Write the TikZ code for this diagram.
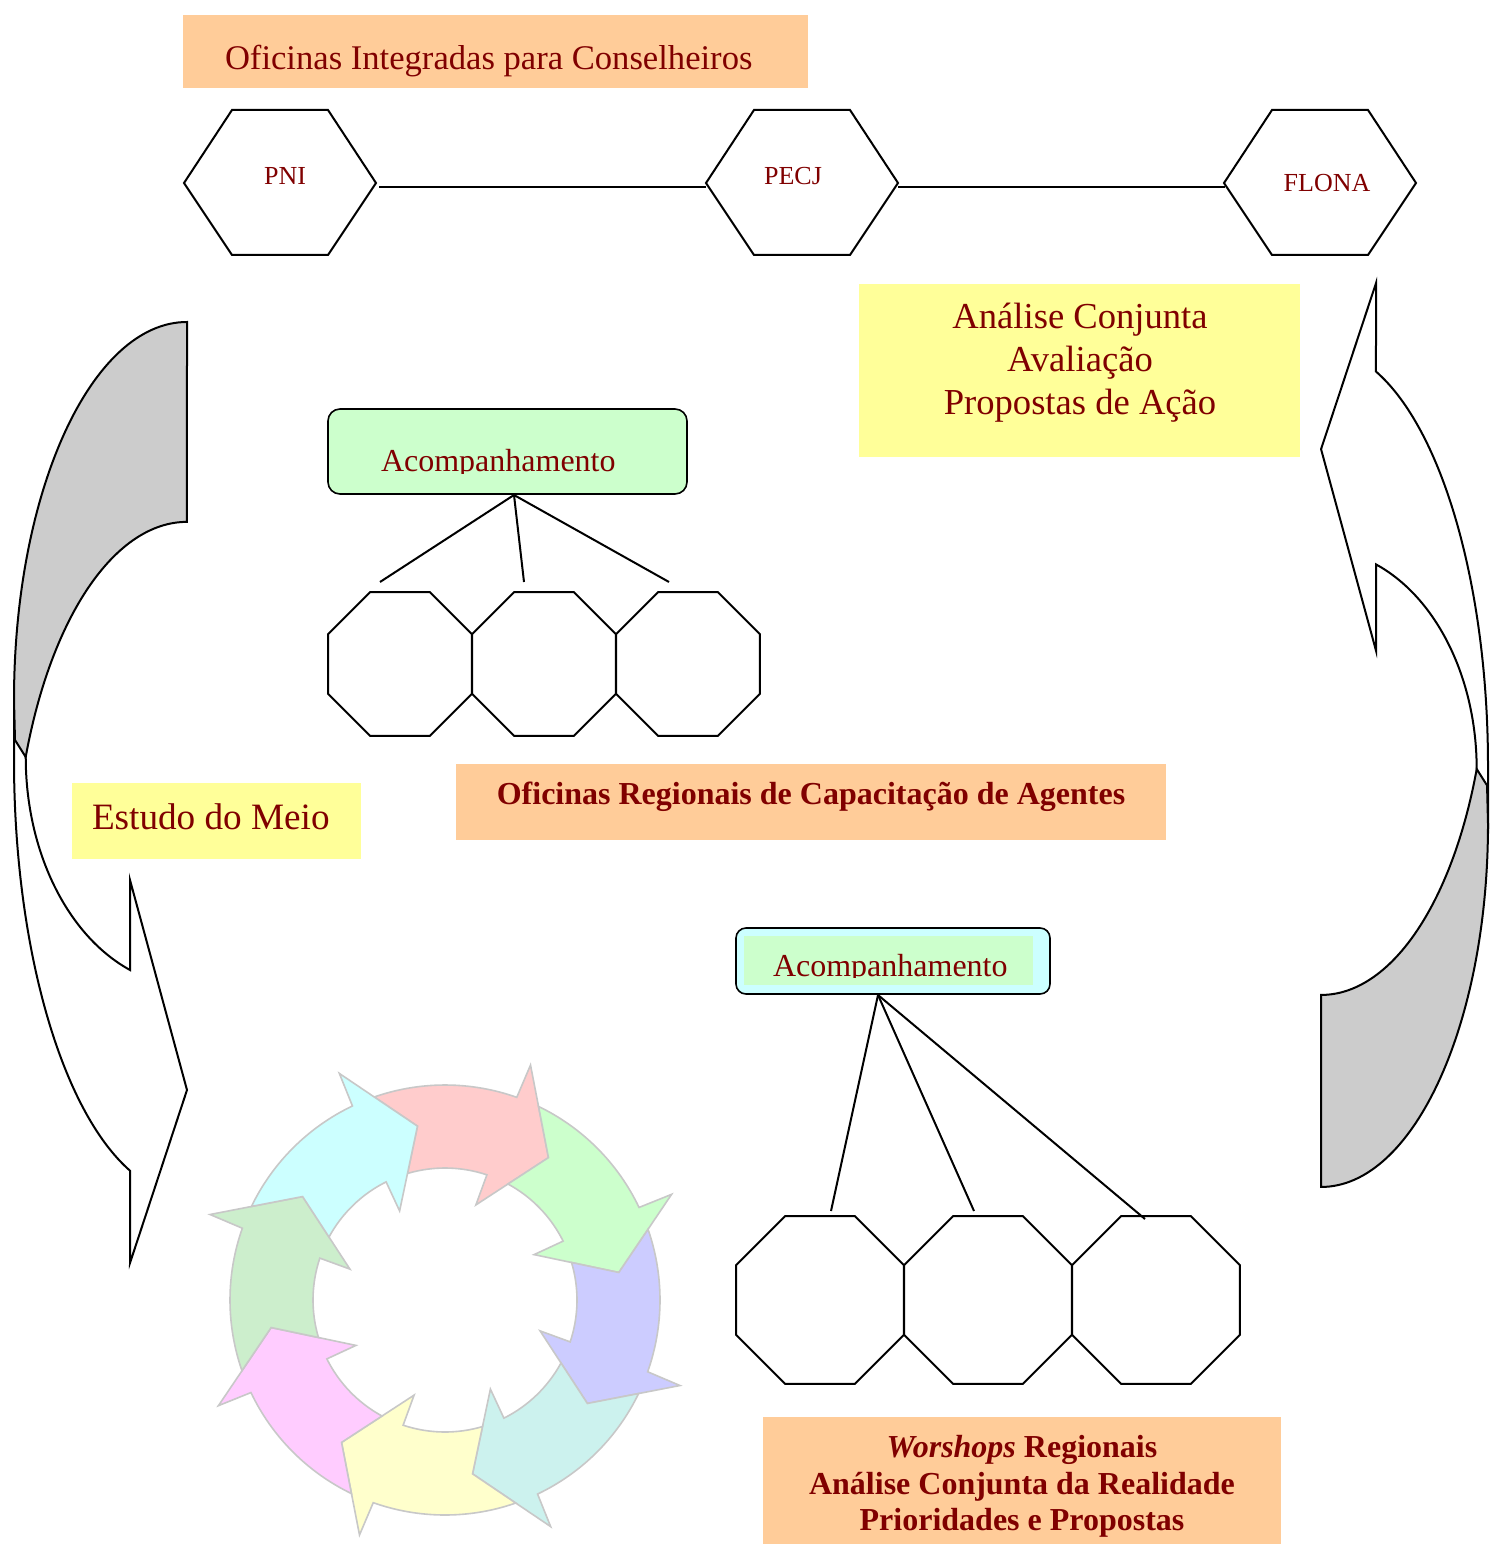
\documentclass[tikz,border=0pt]{standalone}
\usepackage{fontspec}
\setmainfont{Liberation Serif}
\usetikzlibrary{shapes.geometric}
\definecolor{txtred}{HTML}{800000}
\definecolor{boxorange}{HTML}{FFCC99}
\definecolor{boxyellow}{HTML}{FFFF99}
\definecolor{boxgreen}{HTML}{CCFFCC}
\definecolor{boxcyan}{HTML}{CCFFFF}
\definecolor{backgray}{HTML}{CCCCCC}
\definecolor{ringgray}{HTML}{C8C8C8}
\definecolor{cpink}{HTML}{FFCCCC}
\definecolor{cgreen}{HTML}{CCFFCC}
\definecolor{clav}{HTML}{CCCCFF}
\definecolor{cteal}{HTML}{CCF2EE}
\definecolor{cyell}{HTML}{FFFFCC}
\definecolor{cmag}{HTML}{FFCCFF}
\definecolor{cleaf}{HTML}{CCEECC}
\definecolor{ccyan}{HTML}{CCFFFF}
% one arrow of the cycle: #1 = tip angle (screen, clockwise), #2 = fill colour
\newcommand\cyarrow[2]{%
  \filldraw[fill=#2, draw=ringgray, line width=0.8pt, line join=miter]
    ({#1-55.2}:215) arc[start angle={#1-55.2}, end angle={#1-16.5}, radius=215]
    -- ({#1-16}:250) -- (#1:176) -- ({#1-18}:100) -- ({#1-17.5}:132)
    arc[start angle={#1-17.5}, end angle={#1-52.5}, radius=132]
    -- ({#1-45}:176) -- cycle;}
% the big bent arrow (left one, screen coordinates)
\newcommand\bentarrowpaths{%
  \filldraw[fill=white, draw=black, line width=1pt]
    (14,700) -- (14,760) arc[start angle=180, end angle=109.2, x radius=173, y radius=435]
    -- (130,1263) -- (187,1090) -- (130,880) -- (130,970)
    arc[start angle=111.6, end angle=180, x radius=165, y radius=229] -- cycle;
  \filldraw[fill=backgray, draw=black, line width=1pt]
    (187,322) arc[start angle=270, end angle=180, x radius=173, y radius=378]
    -- (15,740) -- (25.7,757)
    arc[start angle=201.2, end angle=270, x radius=173, y radius=368.3] -- cycle;}
\begin{document}
\begin{tikzpicture}[x=0.5pt, y=-0.5pt,
  lbl/.style={text=txtred, inner sep=0pt, outer sep=0pt},
  ln/.style={draw=black, line width=1pt},
  boxnode/.style={anchor=north west, inner sep=0pt, outer sep=0pt},
  octo/.style={draw=black, line width=1pt, regular polygon, regular polygon sides=8,
               inner sep=0pt, outer sep=0pt},
  hexa/.pic={\draw[ln, line join=miter] (-48,-73) -- (48,-73) -- (96,0) -- (48,72)
               -- (-48,72) -- (-96,0) -- cycle;}]
\useasboundingbox (0,0) rectangle (1489,1545);
\fill[white] (0,0) rectangle (1489,1545);

% ---- top title
\node[boxnode, fill=boxorange, minimum width=312.5pt, minimum height=36.5pt] (topbox) at (183,15) {};
\node[lbl, anchor=base west, font=\fontsize{17.3}{20}\selectfont] (toptxt) at (225,70)
  {Oficinas Integradas para Conselheiros};

% ---- hexagons
\pic at (280,183) {hexa};
\pic at (802,183) {hexa};
\pic at (1320,183) {hexa};
\node[lbl, font=\fontsize{13}{15}\selectfont] (pni) at (285,176) {PNI};
\node[lbl, font=\fontsize{13}{15}\selectfont] (pecj) at (793,176) {PECJ};
\node[lbl, font=\fontsize{13}{15}\selectfont] (flona) at (1327,183) {FLONA};
\coordinate (pniE) at (379,187);
\coordinate (pecjW) at (706,187);
\coordinate (pecjE) at (898,187);
\coordinate (flonaW) at (1225,187);
\draw[ln] (pniE) -- (pecjW);
\draw[ln] (pecjE) -- (flonaW);

% ---- yellow box right
\node[boxnode, fill=boxyellow, minimum width=220.5pt, minimum height=86.5pt] (ybox) at (859,284) {};
\node[lbl, align=center, font=\fontsize{18.3}{21.5}\selectfont] (ytxt) at (1080,363)
  {Análise Conjunta\\Avaliação\\Propostas de Ação};

% ---- bent arrows
\bentarrowpaths
\begin{scope}[shift={(1501.5,1496.3)}, xscale=-0.965, yscale=-0.9607]
  \bentarrowpaths
\end{scope}

% ---- first Acompanhamento group
\node[boxnode, draw=black, line width=0.8pt, fill=boxgreen, rounded corners=6pt,
      minimum width=179.5pt, minimum height=42.5pt] (acbox1) at (328,409) {};
\begin{scope}
  \clip (330,411) rectangle (685,473);
  \node[lbl, anchor=base west, font=\fontsize{16}{18}\selectfont] (ac1) at (381,472) {Acompanhamento};
\end{scope}
\node[octo, minimum size=77.9pt] (oa1) at (400,664) {};
\node[octo, minimum size=77.9pt] (oa2) at (544,664) {};
\node[octo, minimum size=77.9pt] (oa3) at (688,664) {};
\coordinate (ac1s) at (514,495);
\coordinate (oa1t) at (380,582);
\coordinate (oa2t) at (524,582);
\coordinate (oa3t) at (669,582);
\draw[ln] (ac1s) -- (oa1t);
\draw[ln] (ac1s) -- (oa2t);
\draw[ln] (ac1s) -- (oa3t);

% ---- Oficinas Regionais
\node[boxnode, fill=boxorange, minimum width=355pt, minimum height=38pt] (regbox) at (456,764) {};
\node[lbl, anchor=base, font=\bfseries\fontsize{16}{18}\selectfont] (regtxt) at (811,804)
  {Oficinas Regionais de Capacitação de Agentes};

% ---- Estudo do Meio
\node[boxnode, fill=boxyellow, minimum width=144.5pt, minimum height=38pt] (estbox) at (72,783) {};
\node[lbl, anchor=base west, font=\fontsize{18.6}{21}\selectfont] (esttxt) at (92,829) {Estudo do Meio};

% ---- second Acompanhamento group
\node[boxnode, draw=black, line width=0.8pt, fill=boxcyan, rounded corners=5pt,
      minimum width=157pt, minimum height=33pt] (acbox2) at (736,928) {};
\node[boxnode, fill=boxgreen, minimum width=144.5pt, minimum height=24.5pt] (acin2) at (744,936) {};
\begin{scope}
  \clip (744,936) rectangle (1033,977);
  \node[lbl, anchor=base west, font=\fontsize{16}{18}\selectfont] (ac2) at (773,976) {Acompanhamento};
\end{scope}
\node[octo, minimum size=90.9pt] (ob1) at (820,1300) {};
\node[octo, minimum size=90.9pt] (ob2) at (988,1300) {};
\node[octo, minimum size=90.9pt] (ob3) at (1156,1300) {};
\coordinate (ac2s) at (878,995);
\coordinate (ob1t) at (831,1211);
\coordinate (ob2t) at (974,1211);
\coordinate (ob3t) at (1145,1219);
\draw[ln] (ac2s) -- (ob1t);
\draw[ln] (ac2s) -- (ob2t);
\draw[ln] (ac2s) -- (ob3t);

% ---- cycle
\begin{scope}[shift={(445,1300)}]
  \cyarrow{306}{cpink}
  \cyarrow{351}{cgreen}
  \cyarrow{36}{clav}
  \cyarrow{81}{cteal}
  \cyarrow{126}{cyell}
  \cyarrow{171}{cmag}
  \cyarrow{216}{cleaf}
  \cyarrow{261}{ccyan}
\end{scope}

% ---- Workshops box
\node[boxnode, fill=boxorange, minimum width=259pt, minimum height=63.5pt] (wkbox) at (763,1417) {};
\node[lbl, align=center, font=\bfseries\fontsize{16}{18.3}\selectfont] (wktxt) at (1022,1486.5)
  {\textit{Worshops} Regionais\\Análise Conjunta da Realidade\\Prioridades e Propostas};
\end{tikzpicture}
\end{document}
